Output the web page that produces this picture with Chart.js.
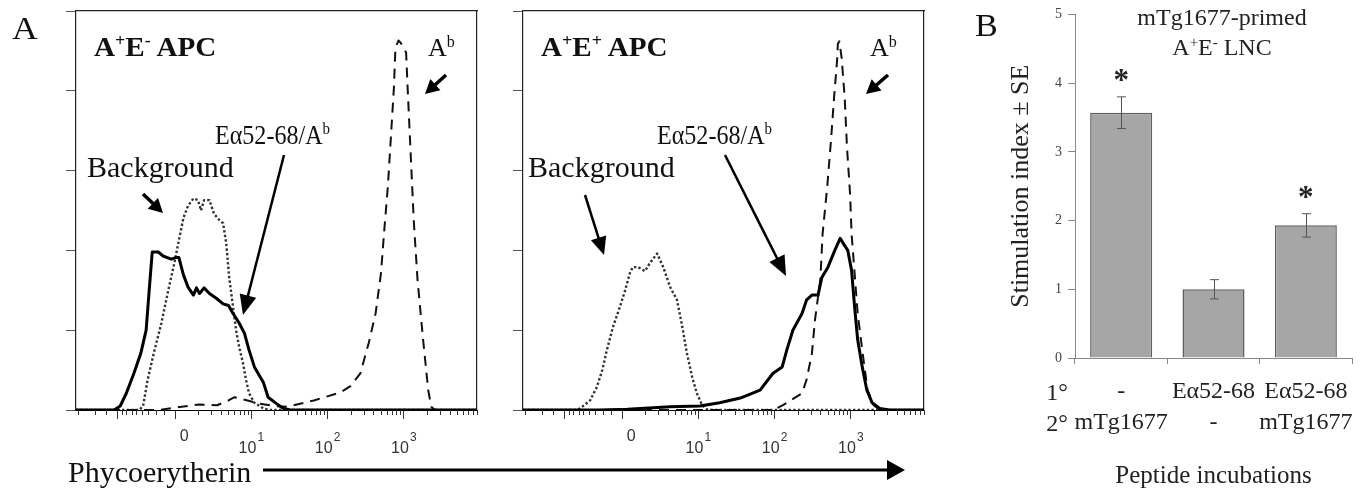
<!DOCTYPE html>
<html><head><meta charset="utf-8">
<script src="https://cdn.jsdelivr.net/npm/chart.js@4.4.1/dist/chart.umd.min.js"></script>
<style>
body{margin:0;width:1368px;height:491px;overflow:hidden;background:#fff;position:relative;font-family:'Liberation Serif',serif;}
canvas{position:absolute;}
.t{position:absolute;white-space:nowrap;line-height:1;color:#111;transform-origin:0 50%;}
.t sup{font-size:0.62em;vertical-align:0;position:relative;top:-0.55em;line-height:0;}
.b{color:#222;}
svg{position:absolute;left:0;top:0;}
</style></head><body>
<canvas id="a1" width="441" height="460" style="left:56px;top:0"></canvas>
<canvas id="a2" width="441" height="460" style="left:503px;top:0"></canvas>
<canvas id="pb" width="365" height="491" style="left:1003px;top:0"></canvas>
<svg id="arrows" width="1368" height="491"></svg>

<div class="t" style="left:12px;top:28px;font-size:31px;transform:translateY(-50%) scaleX(1.15)">A</div>
<div class="t" style="left:94px;top:47px;font-size:28px;font-weight:bold;transform:translateY(-50%) scaleX(1.04)">A<sup>+</sup>E<sup>-</sup> APC</div>
<div class="t" style="left:428px;top:48px;font-size:26px;transform:translateY(-50%)">A<sup>b</sup></div>
<div class="t" style="left:215px;top:135px;font-size:28px;transform:translateY(-50%) scaleX(0.86)">Eα52-68/A<sup>b</sup></div>
<div class="t" style="left:87px;top:167px;font-size:30px;transform:translateY(-50%)">Background</div>

<div class="t" style="left:541px;top:47px;font-size:28px;font-weight:bold;transform:translateY(-50%) scaleX(1.04)">A<sup>+</sup>E<sup>+</sup> APC</div>
<div class="t" style="left:870px;top:48px;font-size:26px;transform:translateY(-50%)">A<sup>b</sup></div>
<div class="t" style="left:657px;top:135px;font-size:28px;transform:translateY(-50%) scaleX(0.86)">Eα52-68/A<sup>b</sup></div>
<div class="t" style="left:528px;top:167px;font-size:30px;transform:translateY(-50%)">Background</div>

<div class="t" style="left:68px;top:472px;font-size:30px;transform:translateY(-50%)">Phycoerytherin</div>

<div class="t" style="left:975px;top:25px;font-size:31px;transform:translateY(-50%) scaleX(1.1)">B</div>
<div class="t b" style="left:1222px;top:17px;font-size:24px;transform:translate(-50%,-50%)">mTg1677-primed</div>
<div class="t b" style="left:1222px;top:47px;font-size:24px;transform:translate(-50%,-50%)">A<sup>+</sup>E<sup>-</sup> LNC</div>
<div class="t b" style="left:1057px;top:392px;font-size:24px;transform:translate(-50%,-50%)">1°</div>
<div class="t b" style="left:1057px;top:423px;font-size:24px;transform:translate(-50%,-50%)">2°</div>

<script>
// ---------- Panel A data: x in display decades (0 = "0", 1 = 10^1, ...), y = relative count ----------
const xMin = -1.3, xMax = 3.96;
const xMajorTicks = [-0.75, 0, 1, 2, 3];
const xNegMinorTicks = [-1.27, -1.05, -0.9, -0.70, -0.64, -0.57, -0.51, -0.44, -0.35, -0.25, -0.14];
const xDecades = [0, 1, 2, 3];
const xMinorMultipliers = [2, 3, 4, 5, 6, 7, 8, 9];
const xLabelPos = [0.12, 1, 2, 3];
const xLabelBase = ['0', '10', '10', '10'];
const xLabelExp = ['', '1', '2', '3'];

const leftSolid = [[-1.3,0],[-0.8,0],[-0.72,0.05],[-0.64,0.21],[-0.54,0.46],[-0.45,0.71],[-0.38,1.0],[-0.34,1.5],[-0.30,1.98],[-0.22,1.98],[-0.16,1.93],[-0.05,1.89],[0.01,1.91],[0.05,1.91],[0.11,1.69],[0.17,1.54],[0.24,1.44],[0.28,1.53],[0.32,1.46],[0.38,1.53],[0.45,1.46],[0.54,1.40],[0.63,1.33],[0.70,1.31],[0.76,1.21],[0.84,1.09],[0.91,0.96],[0.97,0.75],[1.04,0.54],[1.16,0.34],[1.22,0.16],[1.33,0.08],[1.42,0.02],[1.51,0],[3.96,0]];
const leftDotted = [[-1.3,0],[-0.47,0],[-0.42,0.05],[-0.36,0.38],[-0.28,0.71],[-0.18,1.09],[-0.09,1.5],[-0.01,1.84],[0.05,2.13],[0.11,2.41],[0.17,2.56],[0.24,2.65],[0.30,2.63],[0.34,2.5],[0.38,2.63],[0.45,2.63],[0.51,2.46],[0.58,2.38],[0.63,2.34],[0.67,2.09],[0.71,1.66],[0.76,1.29],[0.80,1.0],[0.84,0.79],[0.89,0.59],[0.93,0.38],[0.97,0.21],[1.04,0.09],[1.16,0.02],[1.25,0],[3.96,0]];
const leftDashed = [[-1.3,0],[-0.2,0],[0.0,0.03],[0.32,0.07],[0.55,0.06],[0.70,0.12],[0.78,0.16],[0.95,0.12],[1.1,0.08],[1.3,0.05],[1.47,0.04],[1.82,0.12],[2.17,0.22],[2.30,0.3],[2.43,0.46],[2.54,0.84],[2.63,1.21],[2.70,1.71],[2.74,2.21],[2.79,2.79],[2.83,3.41],[2.87,4.04],[2.89,4.54],[2.93,4.63],[2.96,4.60],[3.03,4.48],[3.05,4.04],[3.09,3.21],[3.13,2.38],[3.18,1.63],[3.25,0.91],[3.32,0.25],[3.36,0.04],[3.41,0],[3.96,0]];

const rightSolid = [[-1.3,0],[-0.3,0],[0.07,0.01],[0.63,0.04],[1.02,0.05],[1.28,0.09],[1.55,0.15],[1.81,0.25],[1.98,0.46],[2.10,0.54],[2.16,0.75],[2.24,1.0],[2.36,1.21],[2.42,1.38],[2.49,1.44],[2.57,1.44],[2.62,1.66],[2.70,1.79],[2.79,2.0],[2.86,2.15],[2.92,2.06],[2.96,2.0],[3.01,1.75],[3.05,1.29],[3.09,0.88],[3.15,0.54],[3.21,0.25],[3.28,0.09],[3.38,0.02],[3.51,0],[3.96,0]];
const rightDotted = [[-1.3,0],[-0.62,0],[-0.55,0.02],[-0.42,0.12],[-0.33,0.29],[-0.26,0.5],[-0.20,0.75],[-0.12,1.04],[-0.03,1.29],[0.04,1.5],[0.10,1.71],[0.14,1.79],[0.21,1.79],[0.30,1.74],[0.37,1.85],[0.46,1.96],[0.54,1.79],[0.63,1.54],[0.72,1.38],[0.79,1.04],[0.85,0.71],[0.92,0.41],[0.98,0.21],[1.05,0.06],[1.11,0.01],[1.2,0],[3.96,0]];
const rightDashed = [[-1.3,0],[1.98,0],[2.11,0.06],[2.36,0.21],[2.42,0.38],[2.49,0.71],[2.53,1.13],[2.60,1.63],[2.63,2.21],[2.69,2.79],[2.74,3.38],[2.78,3.91],[2.82,4.38],[2.83,4.59],[2.85,4.62],[2.88,4.41],[2.92,3.91],[2.95,3.29],[2.99,2.71],[3.01,2.21],[3.05,1.71],[3.09,1.21],[3.15,0.75],[3.22,0.25],[3.30,0.06],[3.38,0],[3.96,0]];

// ---------- Panel B data ----------
const primaryPeptide = ['-', 'Eα52-68', 'Eα52-68'];
const secondaryPeptide = ['mTg1677', '-', 'mTg1677'];
const stimIndex = [3.57, 1.0, 1.93];
const stimSE = [0.23, 0.14, 0.17];
const significant = [true, false, true];

Chart.defaults.font.family = "'Liberation Serif', serif";

const xMinorTicks = xNegMinorTicks.concat(
  xDecades.flatMap(d => xMinorMultipliers.map(k => d + Math.log10(k))).filter(v => v <= xMax)
);

const flowAxis = {
  id: 'flowAxis',
  afterDraw(chart) {
    const ctx = chart.ctx, xs = chart.scales.x, yb = chart.chartArea.bottom;
    ctx.save();
    ctx.strokeStyle = '#333'; ctx.lineWidth = 1;
    xMinorTicks.forEach(v => {
      const px = Math.round(xs.getPixelForValue(v)) + 0.5;
      ctx.beginPath(); ctx.moveTo(px, yb); ctx.lineTo(px, yb + 5); ctx.stroke();
    });
    ctx.fillStyle = '#333'; ctx.textBaseline = 'middle'; ctx.textAlign = 'left';
    xLabelPos.forEach((v, i) => {
      const px = xs.getPixelForValue(v);
      const base = xLabelBase[i], exp = xLabelExp[i];
      ctx.font = '16px "Liberation Sans"';
      const wb = ctx.measureText(base).width;
      ctx.font = '12px "Liberation Sans"';
      const we = exp ? ctx.measureText(exp).width + 1 : 0;
      const x0 = px - (wb + we) / 2;
      ctx.font = '16px "Liberation Sans"';
      ctx.fillText(base, x0, exp ? yb + 39 : yb + 27);
      if (exp) {
        ctx.font = '12px "Liberation Sans"';
        ctx.fillText(exp, x0 + wb + 1, yb + 28);
      }
    });
    ctx.restore();
  }
};

const pts = arr => arr.map(p => ({x: p[0], y: p[1]}));

function flowChart(id, solid, dotted, dashed) {
  return new Chart(document.getElementById(id), {
    type: 'line',
    data: {datasets: [
      {data: pts(solid), borderColor: '#000', borderWidth: 3},
      {data: pts(dashed), borderColor: '#111', borderWidth: 2, borderDash: [10, 7]},
      {data: pts(dotted), borderColor: '#333', borderWidth: 2.4, borderDash: [2.4, 2.2]}
    ]},
    options: {
      responsive: false, animation: false, parsing: false,
      layout: {padding: {left: 10, right: 20, top: 11, bottom: 0}},
      plugins: {legend: {display: false}, tooltip: {enabled: false}},
      elements: {point: {radius: 0}, line: {tension: 0, borderJoinStyle: 'round'}},
      scales: {
        x: {type: 'linear', min: xMin, max: xMax,
            afterBuildTicks: s => { s.ticks = xMajorTicks.map(v => ({value: v})); },
            ticks: {display: false},
            grid: {drawOnChartArea: false, tickLength: 9, tickColor: '#333', tickWidth: 1},
            border: {color: '#000', width: 1},
            afterFit: s => { s.height = 50; }},
        y: {min: 0, max: 5, ticks: {display: false, stepSize: 1},
            grid: {drawOnChartArea: false, tickLength: 10, tickColor: '#555'},
            border: {color: '#222', width: 1.2},
            afterFit: s => { s.width = 10; }},
        xt: {type: 'linear', axis: 'x', position: 'top', min: 0, max: 1, ticks: {display: false},
             grid: {display: false, drawTicks: false}, border: {color: '#222', width: 1.2},
             afterFit: s => { s.height = 0; }},
        yr: {type: 'linear', axis: 'y', position: 'right', min: 0, max: 1, ticks: {display: false},
             grid: {display: false, drawTicks: false}, border: {color: '#222', width: 1.2},
             afterFit: s => { s.width = 0; }}
      }
    },
    plugins: [flowAxis]
  });
}

flowChart('a1', leftSolid, leftDotted, leftDashed);
flowChart('a2', rightSolid, rightDotted, rightDashed);

const errPlugin = {
  id: 'errBars',
  afterDatasetsDraw(chart) {
    const ctx = chart.ctx, ys = chart.scales.y, meta = chart.getDatasetMeta(0);
    ctx.save();
    ctx.strokeStyle = '#555'; ctx.lineWidth = 1;
    meta.data.forEach((bar, i) => {
      const x = Math.round(bar.x) + 0.5;
      const yt = ys.getPixelForValue(stimIndex[i] + stimSE[i]);
      const ybm = ys.getPixelForValue(stimIndex[i] - stimSE[i]);
      ctx.beginPath();
      ctx.moveTo(x, yt); ctx.lineTo(x, ybm);
      ctx.moveTo(x - 4.5, yt); ctx.lineTo(x + 4.5, yt);
      ctx.moveTo(x - 4.5, ybm); ctx.lineTo(x + 4.5, ybm);
      ctx.stroke();
      if (significant[i]) {
        ctx.fillStyle = '#222';
        ctx.font = 'bold 31px "Liberation Serif"';
        ctx.textAlign = 'center'; ctx.textBaseline = 'alphabetic';
        ctx.fillText('*', bar.x, yt - 22 + 15);
      }
    });
    ctx.restore();
  }
};

new Chart(document.getElementById('pb'), {
  type: 'bar',
  data: {
    labels: primaryPeptide.map((p, i) => [p, secondaryPeptide[i]]),
    datasets: [{data: stimIndex, backgroundColor: '#a6a6a6', borderColor: '#5e5e5e', borderWidth: 1.5,
                barPercentage: 0.672, categoryPercentage: 1}]
  },
  options: {
    responsive: false, animation: false,
    layout: {padding: {left: 0, right: 16, top: 14, bottom: 0}},
    plugins: {legend: {display: false}, tooltip: {enabled: false}},
    scales: {
      x: {ticks: {font: {size: 24, lineHeight: 1.3}, color: '#222', padding: 12, maxRotation: 0, autoSkip: false},
          grid: {drawOnChartArea: false, tickLength: 6, tickColor: '#888', offset: true},
          border: {color: '#888'},
          title: {display: true, text: 'Peptide incubations', font: {size: 25}, color: '#222', padding: {top: 0, bottom: 0}},
          afterFit: s => { s.height = 133; }},
      y: {min: 0, max: 5, ticks: {stepSize: 1, font: {size: 14}, color: '#444', padding: 6},
          grid: {drawOnChartArea: false, tickLength: 7, tickColor: '#888'},
          border: {color: '#888'},
          title: {display: true, text: 'Stimulation index ± SE', font: {size: 26}, color: '#222', padding: {top: 3, bottom: 4}},
          afterFit: s => { s.width = 72; }}
    }
  },
  plugins: [errPlugin]
});

// annotation arrows
function arrow(x1, y1, x2, y2, w, hl, hw) {
  const dx = x2 - x1, dy = y2 - y1, L = Math.hypot(dx, dy), ux = dx / L, uy = dy / L;
  const bx = x2 - ux * hl, by = y2 - uy * hl, px = -uy, py = ux;
  return `<line x1="${x1}" y1="${y1}" x2="${bx + ux}" y2="${by + uy}" stroke="#000" stroke-width="${w}"/>` +
    `<polygon points="${x2},${y2} ${bx + px * hw / 2},${by + py * hw / 2} ${bx - px * hw / 2},${by - py * hw / 2}" fill="#000"/>`;
}
document.getElementById('arrows').innerHTML = [
  arrow(143, 194, 163, 213, 3.5, 14, 15),
  arrow(284, 155, 243, 315, 2.5, 20, 17),
  arrow(446, 75, 425, 94, 3.5, 14, 15),
  arrow(585, 195, 604, 255, 2.5, 18, 16),
  arrow(725, 155, 786, 276, 2.5, 20, 17),
  arrow(888, 75, 866, 94, 3.5, 14, 15),
  arrow(263, 470, 905, 470, 3, 18, 20)
].join('');
</script>
</body></html>
